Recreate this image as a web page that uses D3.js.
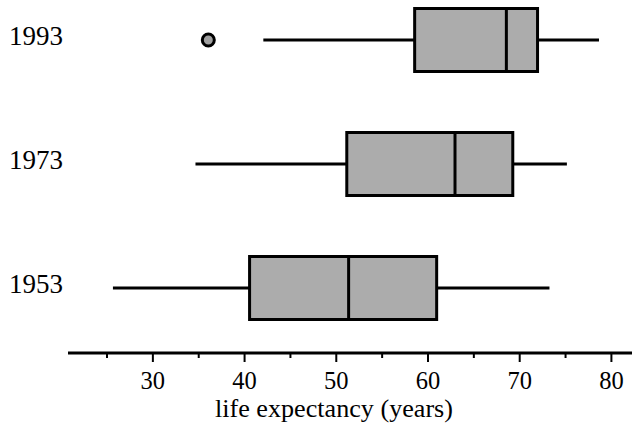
<!DOCTYPE html>
<html>
<head>
<meta charset="utf-8">
<script src="https://cdn.jsdelivr.net/npm/d3@7"></script>
<style>
  html, body { margin: 0; padding: 0; background: #fff; }
  svg text { font-family: "Liberation Serif", "Times New Roman", serif; fill: #000; }
</style>
</head>
<body>
<svg id="chart" width="633" height="427"></svg>
<script>
const years = ["1993", "1973", "1953"];
const whiskerLow = [42.1, 34.7, 25.7];
const q1 = [58.6, 51.2, 40.6];
const median = [68.6, 63.0, 51.4];
const q3 = [72.0, 69.3, 61.0];
const whiskerHigh = [78.7, 75.2, 73.3];
const outlierYear = ["1993"];
const outlierValue = [36.1];
const majorTicks = [30, 40, 50, 60, 70, 80];
const minorTicks = [25, 35, 45, 55, 65, 75];
const xTitle = "life expectancy (years)";

const svg = d3.select("#chart");
const x = d3.scaleLinear().domain([20.8, 82.3]).range([68, 632]);
const y = d3.scalePoint().domain(years).range([40, 288]);
const boxH = 63;

const data = years.map((yr, i) => ({
  yr, lo: whiskerLow[i], q1: q1[i], med: median[i], q3: q3[i], hi: whiskerHigh[i]
}));

const g = svg.append("g");

// whiskers
g.selectAll("line.whisk").data(data).join("line")
  .attr("x1", d => x(d.lo)).attr("x2", d => x(d.hi))
  .attr("y1", d => y(d.yr)).attr("y2", d => y(d.yr))
  .attr("stroke", "#000").attr("stroke-width", 3);

// boxes
g.selectAll("rect.box").data(data).join("rect")
  .attr("x", d => x(d.q1)).attr("width", d => x(d.q3) - x(d.q1))
  .attr("y", d => y(d.yr) - boxH / 2).attr("height", boxH)
  .attr("fill", "#acacac").attr("stroke", "#000").attr("stroke-width", 3);

// medians
g.selectAll("line.med").data(data).join("line")
  .attr("x1", d => x(d.med)).attr("x2", d => x(d.med))
  .attr("y1", d => y(d.yr) - boxH / 2).attr("y2", d => y(d.yr) + boxH / 2)
  .attr("stroke", "#000").attr("stroke-width", 3);

// outliers
g.selectAll("circle.out").data(outlierValue.map((v, i) => ({ v, yr: outlierYear[i] }))).join("circle")
  .attr("cx", d => x(d.v)).attr("cy", d => y(d.yr)).attr("r", 6)
  .attr("fill", "#a0a0a0").attr("stroke", "#000").attr("stroke-width", 3);

// year labels
g.selectAll("text.yr").data(years).join("text")
  .attr("x", 9).attr("y", d => y(d) + 5)
  .attr("font-size", 27)
  .text(d => d);

// x axis
const axisY = 353;
const ax = svg.append("g").attr("transform", `translate(0,${axisY})`);
ax.call(d3.axisBottom(x).tickValues(majorTicks).tickSize(9).tickPadding(9.5).tickFormat(d3.format("d")));
ax.append("g").call(d3.axisBottom(x).tickValues(minorTicks).tickSize(5).tickFormat(""))
  .select(".domain").remove();
ax.selectAll(".domain").attr("stroke", "#000").attr("stroke-width", 3)
  .attr("d", `M${x.range()[0]},0H${x.range()[1]}`);
ax.selectAll(".tick line").attr("stroke", "#000").attr("stroke-width", 2);
ax.selectAll(".tick text").attr("font-size", 24.5).attr("fill", "#000")
  .style("font-family", "'Liberation Serif', serif");

svg.append("text")
  .attr("x", 334).attr("y", 417)
  .attr("text-anchor", "middle").attr("font-size", 24.5)
  .attr("textLength", 238).attr("lengthAdjust", "spacingAndGlyphs")
  .text(xTitle);
</script>
</body>
</html>
